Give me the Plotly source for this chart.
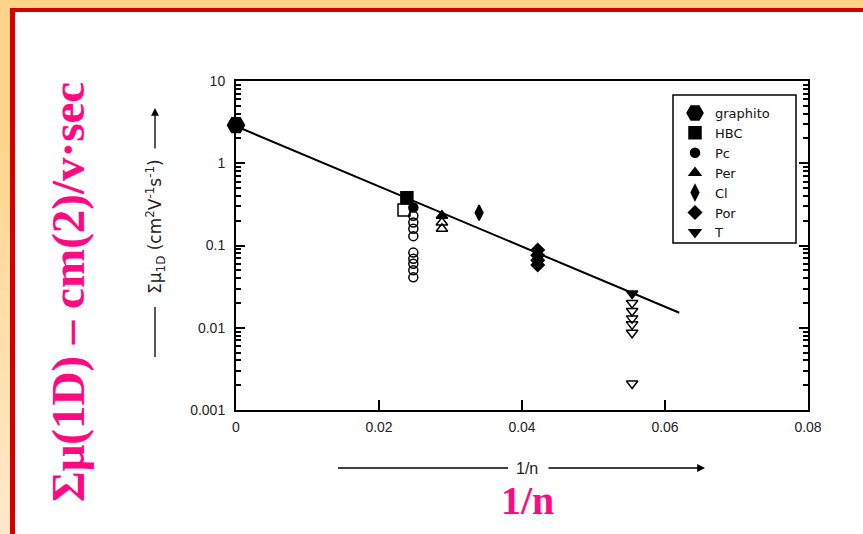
import plotly.graph_objects as go

# ---------------- data ----------------
graphito_x = [0.0]
graphito_y = [2.9]

hbc_x = [0.0239, 0.0235]
hbc_y = [0.38, 0.27]

pc_x = [0.0248] * 10
pc_y = [0.29, 0.23, 0.19, 0.16, 0.13, 0.082, 0.069, 0.060, 0.050, 0.041]

per_x = [0.0288, 0.0288, 0.0288]
per_y = [0.23, 0.19, 0.16]

cl_x = [0.0340]
cl_y = [0.25]

por_x = [0.0422] * 4
por_y = [0.088, 0.076, 0.066, 0.058]

t_x = [0.0554] * 7
t_y = [0.026, 0.020, 0.016, 0.013, 0.011, 0.0087, 0.0021]

fit_x = [0.0, 0.062]
fit_y = [2.82, 0.0152]

x_tickvals = [0, 0.02, 0.04, 0.06, 0.08]
x_ticktext = ["0", "0.02", "0.04", "0.06", "0.08"]
y_tickvals = [0.001, 0.01, 0.1, 1, 10]
y_ticktext = ["0.001", "0.01", "0.1", "1", "10"]

# ---------------- geometry helpers ----------------
W, H = 863, 534
L, R, T, B = 236, 808, 81, 410   # plot area in pixels


def xp(px):
    return (px - L) / (R - L)


def yp(py):
    return (B - py) / (B - T)


# ---------------- traces ----------------
fig = go.Figure()

fig.add_trace(go.Scatter(x=fit_x, y=fit_y, mode="lines",
                         line=dict(color="black", width=2), showlegend=False,
                         hoverinfo="skip", cliponaxis=False))


def sym_list(base, n_filled, n_total):
    return [base] * n_filled + [base + "-open"] * (n_total - n_filled)


series = [
    ("graphito", graphito_x, graphito_y, "hexagon2", 1, 17),
    ("HBC", hbc_x, hbc_y, "square", 1, 12),
    ("Pc", pc_x, pc_y, "circle", 1, 9),
    ("Per", per_x, per_y, "triangle-up", 1, 10),
    ("Cl", cl_x, cl_y, "diamond-tall", 1, 11),
    ("Por", por_x, por_y, "diamond", 4, 10),
    ("T", t_x, t_y, "triangle-down", 1, 10),
]

for name, xs, ys, base, nf, size in series:
    fig.add_trace(go.Scatter(
        x=xs, y=ys, mode="markers", name=name, cliponaxis=False,
        marker=dict(symbol=sym_list(base, nf, len(xs)), size=size,
                    color="black", line=dict(color="black", width=1.5)),
    ))

# ---------------- decoration shapes ----------------
shapes = []
shapes.append(dict(type="rect", xref="paper", yref="paper",
                   x0=xp(10), x1=xp(W + 20), y0=yp(H + 20), y1=yp(8),
                   fillcolor="#D40000", line=dict(width=0), layer="below"))
shapes.append(dict(type="rect", xref="paper", yref="paper",
                   x0=xp(15), x1=xp(W + 20), y0=yp(H + 20), y1=yp(12),
                   fillcolor="white", line=dict(width=0), layer="below"))
top_c = (255, 212, 138)
bot_c = (255, 233, 200)
n = 16
for i in range(n):
    t = i / (n - 1)
    c = tuple(int(round(top_c[k] + (bot_c[k] - top_c[k]) * t)) for k in range(3))
    y0 = 100 + (H - 100) * i / n
    y1 = 100 + (H - 100) * (i + 1) / n
    shapes.append(dict(type="rect", xref="paper", yref="paper",
                       x0=xp(-5), x1=xp(10), y0=yp(y1 + 1), y1=yp(y0),
                       fillcolor="rgb(%d,%d,%d)" % c, line=dict(width=0),
                       layer="below"))
# legend box
shapes.append(dict(type="rect", xref="paper", yref="paper",
                   x0=xp(673), x1=xp(796), y0=yp(243), y1=yp(95),
                   fillcolor="white", line=dict(color="black", width=1.5),
                   layer="above"))
# axis-title lines (scanned figure)
shapes.append(dict(type="line", xref="paper", yref="paper",
                   x0=xp(155), x1=xp(155), y0=yp(307), y1=yp(357),
                   line=dict(color="black", width=1.3)))
shapes.append(dict(type="line", xref="paper", yref="paper",
                   x0=xp(338), x1=xp(508), y0=yp(468), y1=yp(468),
                   line=dict(color="black", width=1.3)))

annotations = [
    dict(xref="paper", yref="paper", x=xp(155), y=yp(227),
         xanchor="center", yanchor="middle",
         text="Σμ<sub>1D</sub> (cm<sup>2</sup>V<sup>-1</sup>s<sup>-1</sup>)",
         textangle=-90, showarrow=False,
         font=dict(family="DejaVu Sans", size=17, color="#222")),
    dict(xref="paper", yref="paper", x=xp(155), y=yp(108), text="",
         showarrow=True, ax=0, ay=42, arrowhead=2, arrowsize=1.2,
         arrowwidth=1.3, arrowcolor="black"),
    dict(xref="paper", yref="paper", x=xp(527), y=yp(468), text="1/n",
         xanchor="center", yanchor="middle", showarrow=False,
         font=dict(family="Liberation Sans, Arial", size=16, color="#222")),
    dict(xref="paper", yref="paper", x=xp(705), y=yp(468), text="",
         showarrow=True, ax=-158, ay=0, arrowhead=2, arrowsize=1.2,
         arrowwidth=1.3, arrowcolor="black"),
    dict(xref="paper", yref="paper", x=xp(68), y=yp(292),
         xanchor="center", yanchor="middle",
         text="Σμ(1D) – cm(2)/v·sec", textangle=-90, showarrow=False,
         font=dict(family="Liberation Serif, Times New Roman", size=47,
                   color="#FF0A82", weight="bold")),
    dict(xref="paper", yref="paper", x=xp(527), y=yp(500),
         xanchor="center", yanchor="middle",
         text="1/n", showarrow=False,
         font=dict(family="Liberation Serif, Times New Roman", size=40,
                   color="#FF0A82", weight="bold")),
]

minor_vals = [m * 10 ** e for e in range(-3, 1) for m in range(2, 10)]

fig.update_layout(
    width=W, height=H,
    margin=dict(l=L, r=W - R, t=T, b=H - B, pad=0),
    paper_bgcolor="#FFD48A",
    plot_bgcolor="rgba(0,0,0,0)",
    font=dict(family="Liberation Sans, Arial", size=12, color="#222"),
    shapes=shapes,
    annotations=annotations,
    showlegend=True,
    legend=dict(x=xp(675), y=yp(98), xanchor="left", yanchor="top",
                bgcolor="rgba(0,0,0,0)", borderwidth=0,
                font=dict(family="DejaVu Sans", size=13, color="#111"),
                itemwidth=30, tracegroupgap=0),
    xaxis=dict(range=[0, 0.08], tickmode="array", tickvals=x_tickvals,
               ticktext=x_ticktext, ticks="inside", ticklen=10, tickwidth=2,
               tickcolor="black", showline=True, linewidth=2, linecolor="black",
               mirror=True, showgrid=False, zeroline=False,
               ticklabelstandoff=3,
               tickfont=dict(size=14, color="#222")),
    yaxis=dict(type="log", range=[-3, 1], tickmode="array",
               tickvals=y_tickvals, ticktext=y_ticktext, ticks="inside",
               ticklen=9, tickwidth=2, tickcolor="black", showline=True,
               linewidth=2, linecolor="black", mirror="ticks", showgrid=False,
               zeroline=False, ticklabelstandoff=6,
               tickfont=dict(size=14, color="#222"),
               minor=dict(tickmode="array", tickvals=minor_vals,
                          ticks="inside", ticklen=5, tickwidth=1.5,
                          tickcolor="black", showgrid=False)),
)

fig.write_html("out.html", config={"displayModeBar": False},
               post_script="document.body.style.margin='0';"
                           "document.body.style.padding='0';")
